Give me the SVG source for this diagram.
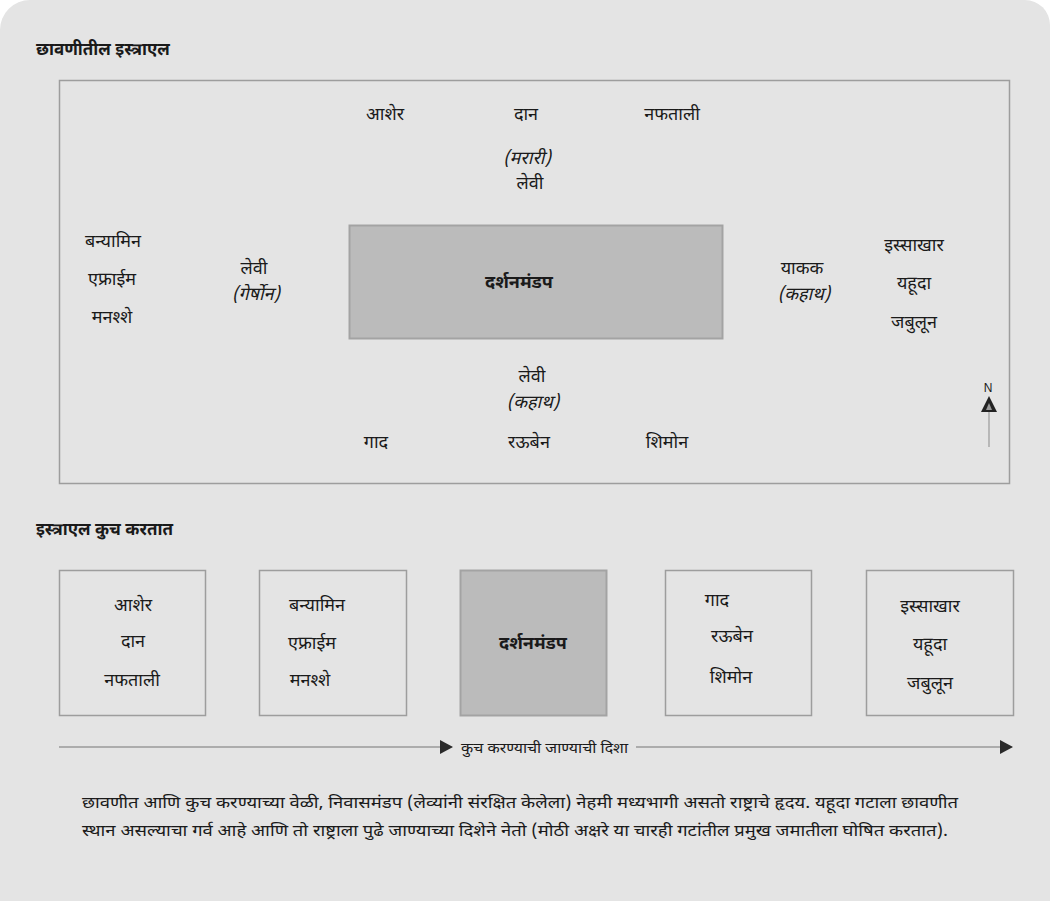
<svg xmlns="http://www.w3.org/2000/svg" width="1050" height="901" viewBox="0 0 1050 901">
<style>
text{font-family:"Noto Sans Devanagari","Lohit Devanagari","Noto Sans","Liberation Sans",sans-serif;fill:#1a1a1a;font-size:18px;}
.c{text-anchor:middle;}
.i{font-style:italic;}
.b{font-weight:bold;font-size:18px;}
.h{font-size:17px;font-weight:bold;}
.box{fill:none;stroke:#9d9d9d;stroke-width:1.5;}
.core{fill:#bbbbbb;stroke:#a3a3a3;stroke-width:2;}
.ln{stroke:#9a9a9a;stroke-width:1.5;fill:none;}
.cap{font-size:16px;}
</style>
<defs>
<marker id="ah" markerWidth="16" markerHeight="16" refX="14" refY="8" orient="auto" markerUnits="userSpaceOnUse">
<path d="M2,1 L15,8 L2,15 Z" fill="#2a2a2a"/>
</marker>
</defs>
<path d="M30,0 H1025 A25,25 0 0 1 1050,25 V901 H0 V30 A30,30 0 0 1 30,0 Z" fill="#e4e4e4"/>
<g id="camp-title"><text x="36" y="55" class="h">छावणीतील इस्त्राएल</text></g>
<g id="camp-frame"><rect x="59.5" y="80.5" width="950" height="403" class="box" stroke-width="2"/></g>
<g id="tabernacle"><rect x="349.5" y="225.5" width="373" height="113" class="core"/><text x="519" y="288" class="c b">दर्शनमंडप</text></g>
<g id="north-tribes"><text x="385" y="120" class="c">आशेर</text><text x="526" y="120" class="c">दान</text><text x="672" y="120" class="c">नफताली</text></g>
<g id="levi-north"><text x="527" y="164" class="c i">(मरारी)</text><text x="530" y="189" class="c">लेवी</text></g>
<g id="west-tribes"><text x="113" y="247" class="c">बन्यामिन</text><text x="112" y="285" class="c">एफ्राईम</text><text x="112" y="323" class="c">मनश्शे</text></g>
<g id="levi-west"><text x="254" y="274" class="c">लेवी</text><text x="256" y="300" class="c i">(गेर्षोन)</text></g>
<g id="levi-east"><text x="802" y="274" class="c">याकक</text><text x="804" y="300" class="c i">(कहाथ)</text></g>
<g id="east-tribes"><text x="914" y="251" class="c">इस्साखार</text><text x="914" y="289" class="c">यहूदा</text><text x="914" y="328" class="c">जबुलून</text></g>
<g id="levi-south"><text x="532" y="382" class="c">लेवी</text><text x="533" y="408" class="c i">(कहाथ)</text></g>
<g id="south-tribes"><text x="376" y="448" class="c">गाद</text><text x="529" y="448" class="c">रऊबेन</text><text x="667" y="448" class="c">शिमोन</text></g>
<g id="north-arrow"><text x="988" y="392" class="c" style="font-family:'Liberation Sans',sans-serif;font-size:12px">N</text><line x1="989" y1="447" x2="989" y2="404" stroke="#9a9a9a" stroke-width="1.2"/><path d="M989,396 L997,412 L981,412 Z" fill="#222"/><path d="M989,403 L992,410 L986,410 Z" fill="#9a9a9a"/></g>
<g id="march-title"><text x="36" y="535" class="h">इस्त्राएल कुच करतात</text></g>
<g id="march-1"><rect x="59.5" y="570.5" width="146" height="145" class="box"/><text x="133" y="611" class="c">आशेर</text><text x="133" y="647" class="c">दान</text><text x="132" y="686" class="c">नफताली</text></g>
<g id="march-2"><rect x="259.5" y="570.5" width="147" height="145" class="box"/><text x="317" y="611" class="c">बन्यामिन</text><text x="312" y="649" class="c">एफ्राईम</text><text x="310" y="686" class="c">मनश्शे</text></g>
<g id="march-3"><rect x="460.5" y="570.5" width="146" height="145" class="core"/><text x="533" y="649" class="c b">दर्शनमंडप</text></g>
<g id="march-4"><rect x="665.5" y="570.5" width="146" height="145" class="box"/><text x="717" y="606" class="c">गाद</text><text x="732" y="642" class="c">रऊबेन</text><text x="731" y="683" class="c">शिमोन</text></g>
<g id="march-5"><rect x="866.5" y="570.5" width="147" height="145" class="box"/><text x="930" y="612" class="c">इस्साखार</text><text x="930" y="650" class="c">यहूदा</text><text x="930" y="689" class="c">जबुलून</text></g>
<g id="connectors">
<line x1="59" y1="747" x2="452" y2="747" class="ln" marker-end="url(#ah)"/>
<line x1="636" y1="747" x2="1012" y2="747" class="ln" marker-end="url(#ah)"/>
</g>
<g id="direction-label"><text x="461" y="753" style="font-size:15px" textLength="167" lengthAdjust="spacingAndGlyphs">कुच करण्याची जाण्याची दिशा</text></g>
<g id="caption">
<text x="82" y="808" class="cap" textLength="876" lengthAdjust="spacingAndGlyphs">छावणीत आणि कुच करण्याच्या वेळी, निवासमंडप (लेव्यांनी संरक्षित केलेला) नेहमी मध्यभागी असतो राष्ट्राचे हृदय. यहूदा गटाला छावणीत</text>
<text x="82" y="836" class="cap" textLength="866" lengthAdjust="spacingAndGlyphs">स्थान असल्याचा गर्व आहे आणि तो राष्ट्राला पुढे जाण्याच्या दिशेने नेतो (मोठी अक्षरे या चारही गटांतील प्रमुख जमातीला घोषित करतात).</text>
</g>
</svg>
